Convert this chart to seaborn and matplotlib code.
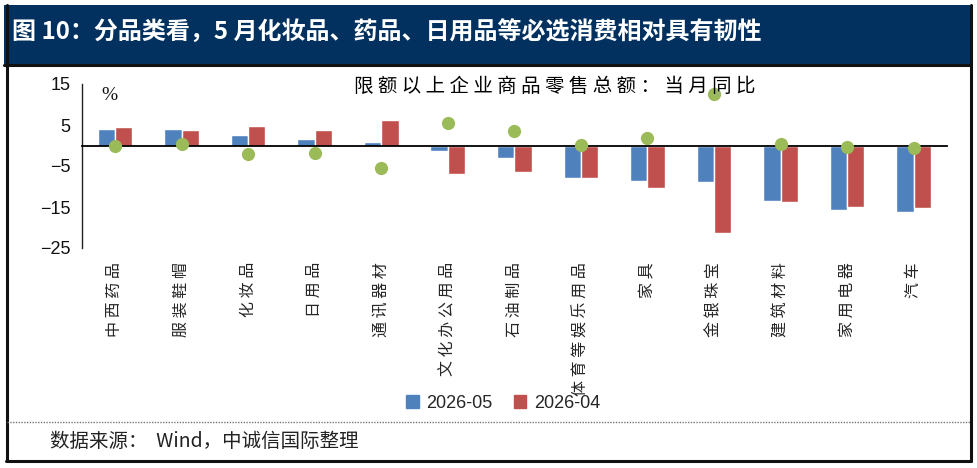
import matplotlib
matplotlib.use("Agg")
import matplotlib.pyplot as plt
import seaborn as sns
import pandas as pd
from matplotlib.patches import Rectangle
from matplotlib.lines import Line2D

# ---- data ----
categories = ["中西药品", "服装鞋帽", "化妆品", "日用品", "通讯器材", "文化办公用品",
              "石油制品", "体育等娱乐用品", "家具", "金银珠宝", "建筑材料", "家用电器", "汽车"]
may_values = [4.1, 4.0, 2.6, 1.7, 0.9, -1.3, -3.1, -8.0, -8.6, -8.9, -13.6, -15.7, -16.1]
apr_values = [4.4, 3.7, 4.8, 3.7, 6.3, -7.0, -6.4, -8.0, -10.4, -21.4, -13.8, -15.0, -15.3]
diff_values = [-0.2, 0.3, -2.1, -1.8, -5.4, 5.6, 3.5, 0.2, 1.9, 12.6, 0.4, -0.4, -0.6]
series_names = ["2026-05", "2026-04"]
y_ticks = [15, 5, -5, -15, -25]

BLUE, RED, GREEN = "#4F81BD", "#C0504D", "#9BBB59"
NAVY = "#02315f"

sns.set_theme(style="white")
plt.rcParams["font.family"] = ["Noto Sans CJK SC", "DejaVu Sans"]
plt.rcParams["axes.unicode_minus"] = True

df = pd.DataFrame({
    "cat": categories * 2,
    "series": [series_names[0]] * len(categories) + [series_names[1]] * len(categories),
    "value": may_values + apr_values,
})
dots = pd.DataFrame({"cat": categories, "value": diff_values})

fig = plt.figure(figsize=(9.77, 4.68), dpi=100)
W, H = 977, 468
ax = fig.add_axes([81.7 / W, 1 - 248 / H, (947 - 81.7) / W, (248 - 84) / H])

sns.barplot(data=df, x="cat", y="value", hue="series", order=categories,
            hue_order=series_names, palette=[BLUE, RED], width=0.52, gap=0,
            saturation=1, errorbar=None, ax=ax, legend=False, zorder=2)
sns.stripplot(data=dots, x="cat", y="value", order=categories, jitter=False,
              color=GREEN, size=9.5, linewidth=0, ax=ax, zorder=4)

ax.set_xlim(-0.5, len(categories) - 0.5)
ax.set_ylim(-25, 15)
ax.set_yticks(y_ticks)
ax.set_xlabel("")
ax.set_ylabel("")
for s in ["top", "right"]:
    ax.spines[s].set_visible(False)
ax.spines["bottom"].set_position(("data", 0))
ax.spines["bottom"].set_color("black")
ax.spines["bottom"].set_linewidth(1.3)
ax.spines["left"].set_color("#222222")
ax.spines["left"].set_linewidth(1.0)

ax.tick_params(axis="y", which="major", direction="out", length=5, width=1,
               color="#222222", labelsize=13, pad=3, labelcolor="#111111")
for lab in ax.get_yticklabels():
    lab.set_family(["Liberation Sans", "DejaVu Sans"])

spaced = [" ".join(list(c)) for c in categories]
ax.set_xticks(range(len(categories)))
ax.set_xticklabels(spaced, rotation=90, va="top", ha="center", fontsize=11.5)
ax.tick_params(axis="x", which="major", length=0, pad=84)
ax.set_xticks([i + 0.5 for i in range(len(categories))], minor=True)
ax.tick_params(axis="x", which="minor", direction="out", length=7, width=1.3, color="black")

fig.text(109 / W, 1 - 95 / H, "%", fontsize=14,
         family=["Liberation Serif", "DejaVu Serif"], ha="center", va="center", color="#111111")
fig.text(555 / W, 1 - 86 / H, " ".join(list("限额以上企业商品零售总额：当月同比")),
         ha="center", va="center", fontsize=14, color="#000000", fontweight="medium")

# legend
handles = [Rectangle((0, 0), 1, 1, color=BLUE), Rectangle((0, 0), 1, 1, color=RED)]
leg = fig.legend(handles, series_names, loc="center", bbox_to_anchor=(503 / W, 1 - 403 / H),
                 ncol=2, frameon=False, handlelength=0.7, handleheight=0.7,
                 handletextpad=0.4, columnspacing=1.2,
                 prop={"family": ["Liberation Sans", "DejaVu Sans"], "size": 13})

# title bar and frame
fig.patches.append(Rectangle((4 / W, 1 - 64 / H), (970 - 4) / W, (64 - 5) / H,
                             transform=fig.transFigure, facecolor=NAVY, edgecolor="none", zorder=0))
fig.text(12 / W, 1 - 33 / H, "图 10：分品类看，5 月化妆品、药品、日用品等必选消费相对具有韧性",
         color="white", fontsize=17.3, fontweight="bold", ha="left", va="center")
frame_kw = dict(transform=fig.transFigure, color="#111111", linewidth=2.2)
fig.add_artist(Line2D([4 / W, 971 / W], [1 - 65 / H, 1 - 65 / H], **frame_kw))
fig.add_artist(Line2D([6.5 / W, 6.5 / W], [1 - 5 / H, 1 - 461 / H], **frame_kw))
fig.add_artist(Line2D([971 / W, 971 / W], [1 - 5 / H, 1 - 461 / H], **frame_kw))
fig.add_artist(Line2D([6 / W, 971 / W], [1 - 461 / H, 1 - 461 / H], **frame_kw))
fig.add_artist(Line2D([7 / W, 970 / W], [1 - 421.5 / H, 1 - 421.5 / H], transform=fig.transFigure,
                      color="#777777", linewidth=1, linestyle=(0, (1, 1))))
fig.text(50 / W, 1 - 441 / H, "数据来源：  Wind，中诚信国际整理", fontsize=14, color="#222222",
         ha="left", va="center", family=["Noto Sans CJK SC", "DejaVu Sans"])

fig.savefig("out.png", dpi=100, facecolor="white")
